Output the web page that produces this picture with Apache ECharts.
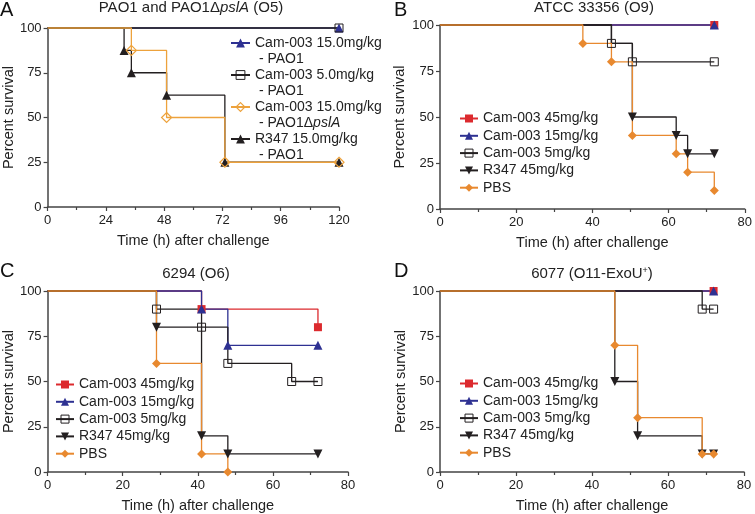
<!DOCTYPE html>
<html><head><meta charset="utf-8">
<script src="https://cdn.jsdelivr.net/npm/echarts@6/dist/echarts.min.js"></script>
<style>html,body{margin:0;padding:0;background:#fff}#c{width:755px;height:514px}</style>
</head><body><div id="c"></div>
<script>
// ---- Data (time in h, percent survival) ----
// Panel A : PAO1 and PAO1ΔpslA (O5)
const A_xTicks = [0, 24, 48, 72, 96, 120];
const A_cam15_t = [0, 120],                 A_cam15_s = [100, 100];
const A_cam5_t  = [0, 120],                 A_cam5_s  = [100, 100];
const A_pslA_t  = [0, 34.5, 49, 73, 120],   A_pslA_s  = [100, 87.5, 50, 25, 25];
const A_r347_t  = [0, 31.5, 34.5, 49, 73, 120], A_r347_s = [100, 87.5, 75, 62.5, 25, 25];
// Panel B : ATCC 33356 (O9)
const B_cam45_t = [0, 72],                  B_cam45_s = [100, 100];
const B_cam15_t = [0, 72],                  B_cam15_s = [100, 100];
const B_cam5_t  = [0, 45, 50.5, 72],        B_cam5_s  = [100, 90, 80, 80];
const B_r347_t  = [0, 45, 50.5, 62, 65, 72], B_r347_s = [100, 90, 50, 40, 30, 30];
const B_r347_noMark = [45];
const B_pbs_t   = [0, 37.5, 45, 50.5, 62, 65, 72], B_pbs_s = [100, 90, 80, 40, 30, 20, 10];
// Panel C : 6294 (O6)
const C_cam45_t = [0, 41, 72],              C_cam45_s = [100, 90, 80];
const C_cam15_t = [0, 41, 48, 72],          C_cam15_s = [100, 90, 70, 70];
const C_cam5_t  = [0, 29, 41, 48, 65, 72],  C_cam5_s  = [100, 90, 80, 60, 50, 50];
const C_r347_t  = [0, 29, 41, 48, 72],      C_r347_s  = [100, 80, 20, 10, 10];
const C_pbs_t   = [0, 29, 41, 48],          C_pbs_s   = [100, 60, 10, 0];
// Panel D : 6077 (O11-ExoU+)
const D_cam45_t = [0, 72],                  D_cam45_s = [100, 100];
const D_cam15_t = [0, 72],                  D_cam15_s = [100, 100];
const D_cam5_t  = [0, 69, 72],              D_cam5_s  = [100, 90, 90];
const D_r347_t  = [0, 46, 52, 69, 72],      D_r347_s  = [100, 50, 20, 10, 10];
const D_pbs_t   = [0, 46, 52, 69, 72],      D_pbs_s   = [100, 70, 30, 10, 10];

const yTicks = [0, 25, 50, 75, 100];
const A_names = ['Cam-003 15.0mg/kg\n - PAO1', 'Cam-003 5.0mg/kg\n - PAO1', 'Cam-003 15.0mg/kg\n - PAO1ΔpslA', 'R347 15.0mg/kg\n - PAO1'];
const N = ['Cam-003 45mg/kg', 'Cam-003 15mg/kg', 'Cam-003 5mg/kg', 'R347 45mg/kg', 'PBS'];

// ---- Styles ----
const FONT = 'Liberation Sans, Arial, sans-serif';
const RED = '#dc2a2e', BLUE = '#2e3192', BLK = '#231f20', ORG = '#e8892f', ORG_A = '#eda23c';
const ST = {
  red:   {symbol: 'rect', size: 8, line: RED, fill: RED},
  blue:  {symbol: 'triangle', size: 9, line: BLUE, fill: BLUE},
  open:  {symbol: 'rect', size: 8, line: BLK, fill: 'rgba(0,0,0,0)', border: BLK, bw: 1},
  inv:   {symbol: 'triangle', size: 9, rot: 180, line: BLK, fill: BLK},
  pbs:   {symbol: 'diamond', size: 9, line: ORG, fill: ORG},
  odia:  {symbol: 'diamond', size: 10, line: ORG_A, fill: 'rgba(0,0,0,0)', border: ORG_A, bw: 1.2},
  up:    {symbol: 'triangle', size: 9, line: BLK, fill: BLK}
};

function km(name, t, s, g, st, noMark) {
  const data = t.map((x, i) => {
    const it = {value: [x, s[i]]};
    if (i === 0 || (noMark && noMark.indexOf(x) >= 0)) it.symbol = 'none';
    return it;
  });
  return {
    type: 'line', name, xAxisIndex: g, yAxisIndex: g, step: 'end', data,
    symbol: st.symbol, symbolSize: st.size, symbolRotate: st.rot || 0,
    showAllSymbol: true, clip: false, animation: false, silent: true,
    lineStyle: {color: st.line, width: 1.3},
    itemStyle: {color: st.fill, borderColor: st.border || st.fill, borderWidth: st.bw || 0},
    emphasis: {disabled: true}
  };
}

const grids = [
  {left: 43, top: 28, width: 296, height: 179},
  {left: 440, top: 25, width: 307, height: 184},
  {left: 45, top: 291, width: 303, height: 183},
  {left: 440, top: 291, width: 304, height: 183}
];
const yNameGap = [30, 33, 31, 32];

function xAxis(g, max, interval) {
  return {
    type: 'value', gridIndex: g, min: 0, max, interval,
    name: 'Time (h) after challenge', nameLocation: 'middle', nameGap: 26,
    nameTextStyle: {fontSize: 14.5, color: '#222', fontFamily: FONT},
    axisLine: {show: true, lineStyle: {color: '#444', width: 1.5}},
    axisTick: {show: true, length: 4, lineStyle: {color: '#444', width: 1.2}},
    minorTick: {show: true, splitNumber: 2, length: 3, lineStyle: {color: '#444', width: 1.2}},
    axisLabel: {fontSize: 13, color: '#222', margin: 7, fontFamily: FONT},
    splitLine: {show: false}
  };
}
function yAxis(g) {
  return {
    type: 'value', gridIndex: g, min: 0, max: 100, interval: 25,
    name: 'Percent survival', nameLocation: 'middle', nameGap: yNameGap[g],
    nameTextStyle: {fontSize: 14.5, color: '#222', fontFamily: FONT},
    axisLine: {show: true, lineStyle: {color: '#444', width: 1.5}},
    axisTick: {show: true, length: 4, lineStyle: {color: '#444', width: 1.2}},
    axisLabel: {fontSize: 13, color: '#222', margin: 6, fontFamily: FONT,
      formatter: v => yTicks.indexOf(v) >= 0 ? String(v) : ''},
    splitLine: {show: false}
  };
}

const series = [
  km(A_names[0], A_cam15_t, A_cam15_s, 0, ST.blue),
  km(A_names[1], A_cam5_t, A_cam5_s, 0, ST.open),
  km(A_names[3], A_r347_t, A_r347_s, 0, ST.up),
  km(A_names[2], A_pslA_t, A_pslA_s, 0, ST.odia),

  km(N[0], B_cam45_t, B_cam45_s, 1, ST.red),
  km(N[1], B_cam15_t, B_cam15_s, 1, ST.blue),
  km(N[2], B_cam5_t, B_cam5_s, 1, ST.open),
  km(N[3], B_r347_t, B_r347_s, 1, ST.inv, B_r347_noMark),
  km(N[4], B_pbs_t, B_pbs_s, 1, ST.pbs),

  km(N[0], C_cam45_t, C_cam45_s, 2, ST.red),
  km(N[1], C_cam15_t, C_cam15_s, 2, ST.blue),
  km(N[2], C_cam5_t, C_cam5_s, 2, ST.open),
  km(N[3], C_r347_t, C_r347_s, 2, ST.inv),
  km(N[4], C_pbs_t, C_pbs_s, 2, ST.pbs),

  km(N[0], D_cam45_t, D_cam45_s, 3, ST.red),
  km(N[1], D_cam15_t, D_cam15_s, 3, ST.blue),
  km(N[2], D_cam5_t, D_cam5_s, 3, ST.open),
  km(N[3], D_r347_t, D_r347_s, 3, ST.inv),
  km(N[4], D_pbs_t, D_pbs_s, 3, ST.pbs)
];

const legBase = {
  orient: 'vertical', padding: 0, selectedMode: false, itemWidth: 18, itemHeight: 10, itemGap: 0.3,
  itemStyle: {borderWidth: 'inherit'},
  textStyle: {fontSize: 14, color: '#222', fontFamily: FONT, lineHeight: 17}
};
const legends = [
  Object.assign({}, legBase, {
    left: 230, top: 19, data: A_names, itemWidth: 19, itemHeight: 11, itemGap: -16,
    formatter: n => n.replace('pslA', '{i|pslA}'),
    textStyle: {fontSize: 14, color: '#222', fontFamily: FONT, lineHeight: 16, padding: [16, 0, 0, 0],
      rich: {i: {fontStyle: 'italic', fontSize: 14, fontFamily: FONT, color: '#222', lineHeight: 16}}}
  }),
  Object.assign({}, legBase, {left: 459, top: 110, data: N}),
  Object.assign({}, legBase, {left: 55, top: 376, data: N}),
  Object.assign({}, legBase, {left: 459, top: 375, data: N})
];

const tStyle = {fontSize: 15, color: '#222', fontWeight: 'normal', fontFamily: FONT};
const letterStyle = {fontSize: 20, color: '#111', fontWeight: 'normal', fontFamily: FONT};
const titles = [
  {text: 'PAO1 and PAO1Δ{i|pslA} (O5)', left: 191, top: 0, textAlign: 'center', padding: 0,
    textStyle: Object.assign({}, tStyle, {rich: {i: {fontStyle: 'italic', fontSize: 15, color: '#222', fontFamily: FONT}}})},
  {text: 'ATCC 33356 (O9)', left: 594, top: 0, textAlign: 'center', padding: 0, textStyle: tStyle},
  {text: '6294 (O6)', left: 196, top: 266, textAlign: 'center', padding: 0, textStyle: tStyle},
  {text: '6077 (O11-ExoU{s|+})', left: 592, top: 266, textAlign: 'center', padding: 0,
    textStyle: Object.assign({}, tStyle, {rich: {s: {fontSize: 9, color: '#222', fontFamily: FONT, verticalAlign: 'top', lineHeight: 10}}})},
  {text: 'A', left: 0, top: 0, padding: 0, textStyle: letterStyle},
  {text: 'B', left: 394, top: 0, padding: 0, textStyle: letterStyle},
  {text: 'C', left: 0, top: 261, padding: 0, textStyle: letterStyle},
  {text: 'D', left: 394, top: 261, padding: 0, textStyle: letterStyle}
];

const chart = echarts.init(document.getElementById('c'), null, {renderer: 'canvas'});
chart.setOption({
  backgroundColor: '#fff',
  animation: false,
  title: titles,
  legend: legends,
  grid: grids,
  xAxis: [xAxis(0, 120, 24), xAxis(1, 80, 20), xAxis(2, 80, 20), xAxis(3, 80, 20)],
  yAxis: [yAxis(0), yAxis(1), yAxis(2), yAxis(3)],
  series
});
</script></body></html>
